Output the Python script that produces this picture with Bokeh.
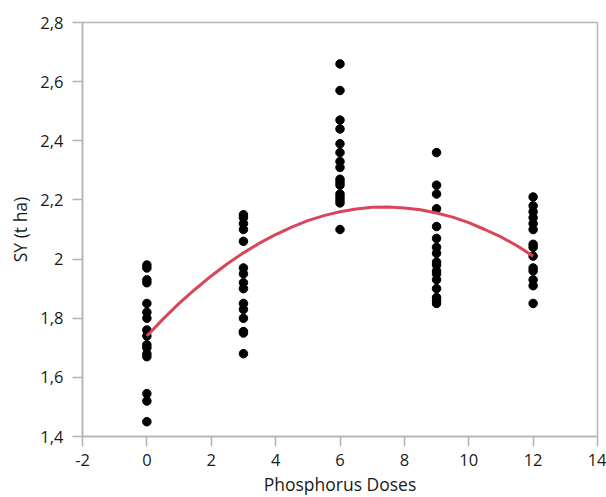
from bokeh.plotting import figure
from bokeh.models import Range1d, FixedTicker, CustomJSTickFormatter, ColumnDataSource
from bokeh.embed import file_html
from bokeh.resources import INLINE

# Data
dose_0 = [1.98, 1.97, 1.93, 1.92, 1.85, 1.82, 1.80, 1.76, 1.74, 1.71, 1.70, 1.68, 1.67, 1.545, 1.52, 1.45]
dose_3 = [2.15, 2.14, 2.12, 2.10, 2.06, 1.97, 1.95, 1.92, 1.90, 1.85, 1.83, 1.80, 1.755, 1.75, 1.68]
dose_6 = [2.66, 2.57, 2.47, 2.44, 2.39, 2.36, 2.33, 2.31, 2.27, 2.26, 2.25, 2.22, 2.21, 2.20, 2.19, 2.10]
dose_9 = [2.36, 2.25, 2.22, 2.17, 2.11, 2.07, 2.04, 2.02, 1.99, 1.98, 1.96, 1.95, 1.93, 1.90, 1.87, 1.86, 1.85]
dose_12 = [2.21, 2.18, 2.16, 2.14, 2.12, 2.10, 2.05, 2.04, 2.01, 1.97, 1.96, 1.93, 1.91, 1.85]

fit_x = [0, 0.5, 1, 1.5, 2, 2.5, 3, 3.5, 4, 4.5, 5, 5.5, 6, 6.5, 7, 7.5, 8, 8.5, 9, 9.5, 10, 10.5, 11, 11.5, 12]
fit_y = [1.740, 1.797, 1.850, 1.898, 1.943, 1.984, 2.021, 2.054, 2.083, 2.108, 2.130, 2.147, 2.160,
         2.169, 2.175, 2.176, 2.173, 2.167, 2.156, 2.142, 2.123, 2.100, 2.075, 2.045, 2.010]

x_ticks = [-2, 0, 2, 4, 6, 8, 10, 12, 14]
y_ticks = [1.4, 1.6, 1.8, 2.0, 2.2, 2.4, 2.6, 2.8]

groups = [(0, dose_0), (3, dose_3), (6, dose_6), (9, dose_9), (12, dose_12)]
xs, ys = [], []
for d, vals in groups:
    xs += [d] * len(vals)
    ys += vals
src = ColumnDataSource(dict(x=xs, y=ys))

p = figure(frame_width=515, frame_height=414, output_backend="svg", toolbar_location=None,
           x_range=Range1d(-2, 14), y_range=Range1d(1.4, 2.8),
           min_border_left=82, min_border_right=9, min_border_top=22, min_border_bottom=61)

FONT = "Open Sans"
grey = "#b4b4b4"

p.xgrid.visible = False
p.ygrid.visible = False
p.outline_line_color = grey
p.outline_line_width = 1.5
p.background_fill_color = "white"
p.border_fill_color = "white"

fmt = CustomJSTickFormatter(code="return String(Math.round(tick*10)/10).replace('.', ',');")
for ax, ticks in ((p.xaxis[0], x_ticks), (p.yaxis[0], y_ticks)):
    ax.ticker = FixedTicker(ticks=ticks)
    ax.formatter = fmt
    ax.minor_tick_line_color = None
    ax.axis_line_color = grey
    ax.axis_line_width = 1.5
    ax.major_tick_line_color = grey
    ax.major_tick_line_width = 1.5
    ax.major_tick_out = 10
    ax.major_tick_in = 0
    ax.major_label_text_font = FONT
    ax.major_label_text_font_size = "16.5px"
    ax.major_label_text_color = "#1a1a1a"
    ax.axis_label_text_font = FONT
    ax.axis_label_text_font_size = "17.5px"
    ax.axis_label_text_font_style = "normal"
    ax.axis_label_text_color = "#1a1a1a"

p.xaxis.axis_label = "Phosphorus Doses"
p.yaxis.axis_label = "SY (t ha)"
p.xaxis.major_label_standoff = 7
p.xaxis.axis_label_standoff = 3
p.yaxis.major_label_standoff = 9
p.yaxis.axis_label_standoff = 5

p.scatter("x", "y", source=src, size=8.5, color="black")
p.line(fit_x, fit_y, line_color="#d9465b", line_width=3)

open("out.html", "w").write(file_html(p, INLINE))
